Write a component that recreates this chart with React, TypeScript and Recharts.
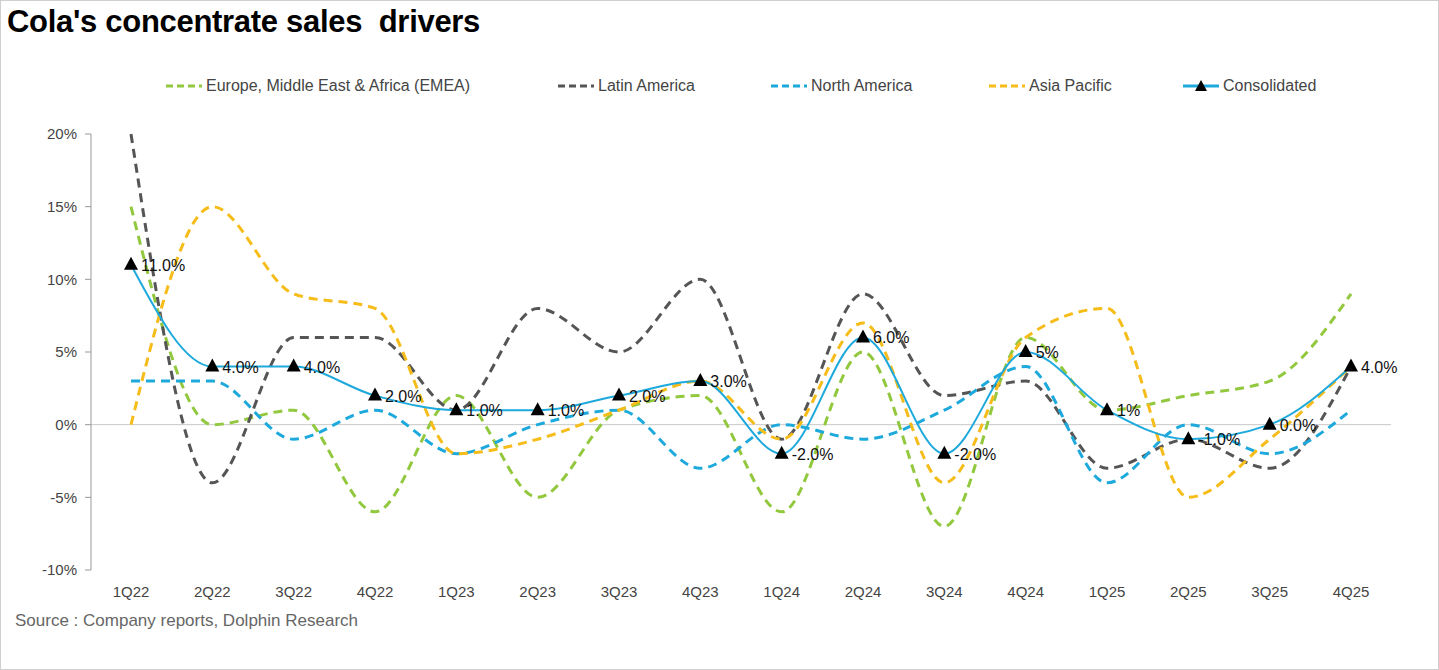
import { LineChart, Line, XAxis, YAxis, ReferenceLine } from 'recharts';

const quarters = ['1Q22', '2Q22', '3Q22', '4Q22', '1Q23', '2Q23', '3Q23', '4Q23', '1Q24', '2Q24', '3Q24', '4Q24', '1Q25', '2Q25', '3Q25', '4Q25'];
const emea = [15, 0, 1, -6, 2, -5, 1, 2, -6, 5, -7, 6, 1, 2, 3, 9];
const latam = [20, -4, 6, 6, 1, 8, 5, 10, -1, 9, 2, 3, -3, -1, -3, 4];
const northAm = [3, 3, -1, 1, -2, 0, 1, -3, 0, -1, 1, 4, -4, 0, -2, 1];
const asiaPac = [0, 15, 9, 8, -2, -1, 1, 3, -1, 7, -4, 6, 8, -5, -1, 4];
const consolidated = [11, 4, 4, 2, 1, 1, 2, 3, -2, 6, -2, 5, 1, -1, 0, 4];
const consLabels = ['11.0%', '4.0%', '4.0%', '2.0%', '1.0%', '1.0%', '2.0%', '3.0%', '-2.0%', '6.0%', '-2.0%', '5%', '1%', '-1.0%', '0.0%', '4.0%'];
const yTicks = [-10, -5, 0, 5, 10, 15, 20];

const data = quarters.map((q, i) => ({
    q, emea: emea[i], latam: latam[i], northAm: northAm[i], asiaPac: asiaPac[i], cons: consolidated[i], label: consLabels[i],
}));

const font = 'Arial, "Liberation Sans", sans-serif';

const legendItems = [
    { name: 'Europe, Middle East & Africa (EMEA)', color: '#92c83e', x: 163, dash: true },
    { name: 'Latin America', color: '#555555', x: 555, dash: true },
    { name: 'North America', color: '#1ea9dc', x: 768, dash: true },
    { name: 'Asia Pacific', color: '#f5bc1a', x: 986, dash: true },
    { name: 'Consolidated', color: '#1ea9dc', x: 1180, dash: false },
];

const Tri = (props: any) => {
    const { cx, cy, index } = props;
    return (
        <g key={index}>
            <path d={`M${cx},${cy - 8} L${cx + 7},${cy + 5} L${cx - 7},${cy + 5} Z`} fill="#000" />
            <text x={cx + 10} y={cy + 6} fontSize={16} fill="#111" fontFamily={font}>{data[index].label}</text>
        </g>
    );
};

export default function App() {
    return (
        <div style={{ position: 'absolute', left: 0, top: 0, width: 1439, height: 670, background: '#fff', fontFamily: font, boxSizing: 'border-box', border: '1px solid #cfcfcf' }}>
            <div style={{ position: 'absolute', left: 6, top: 3, fontSize: 31, fontWeight: 'bold', color: '#000', letterSpacing: -0.3 }}>Cola's concentrate sales&nbsp; drivers</div>
            {legendItems.map((l) => (
                <div key={l.name} style={{ position: 'absolute', left: l.x, top: 76, display: 'flex', alignItems: 'center', fontSize: 16, color: '#444' }}>
                    <svg width={40} height={14}>
                        <line x1={2} y1={7} x2={38} y2={7} stroke={l.color} strokeWidth={3} strokeDasharray={l.dash ? '7 4' : undefined} />
                        {!l.dash && <path d="M20,1 L26,12 L14,12 Z" fill="#000" />}
                    </svg>
                    <span style={{ marginLeft: 2 }}>{l.name}</span>
                </div>
            ))}
            <div style={{ position: 'absolute', left: 0, top: 0 }}>
                <LineChart width={1439} height={670} data={data} margin={{ top: 133, right: 49, bottom: 71, left: 0 }}>
                    <XAxis dataKey="q" axisLine={false} tickLine={false} height={30} padding={{ left: 40, right: 40 }} tick={{ fontSize: 15, fill: '#444', fontFamily: font }} tickMargin={10} />
                    <YAxis domain={[-10, 20]} ticks={yTicks} width={90} tickMargin={8} tickFormatter={(v) => `${v}%`} axisLine={{ stroke: '#999' }} tickLine={{ stroke: '#999' }} tick={{ fontSize: 15, fill: '#444', fontFamily: font }} />
                    <ReferenceLine y={0} stroke="#c8c8c8" />
                    <Line dataKey="emea" type="monotone" stroke="#92c83e" strokeWidth={3} strokeDasharray="9 6" dot={false} isAnimationActive={false} />
                    <Line dataKey="latam" type="monotone" stroke="#555555" strokeWidth={3} strokeDasharray="9 6" dot={false} isAnimationActive={false} />
                    <Line dataKey="northAm" type="monotone" stroke="#1ea9dc" strokeWidth={3} strokeDasharray="9 6" dot={false} isAnimationActive={false} />
                    <Line dataKey="asiaPac" type="monotone" stroke="#f5bc1a" strokeWidth={3} strokeDasharray="9 6" dot={false} isAnimationActive={false} />
                    <Line dataKey="cons" type="monotone" stroke="#1ea9dc" strokeWidth={2} dot={<Tri />} isAnimationActive={false} />
                </LineChart>
            </div>
            <div style={{ position: 'absolute', left: 14, top: 610, fontSize: 17, color: '#666' }}>Source : Company reports, Dolphin Research</div>
        </div>
    );
}
